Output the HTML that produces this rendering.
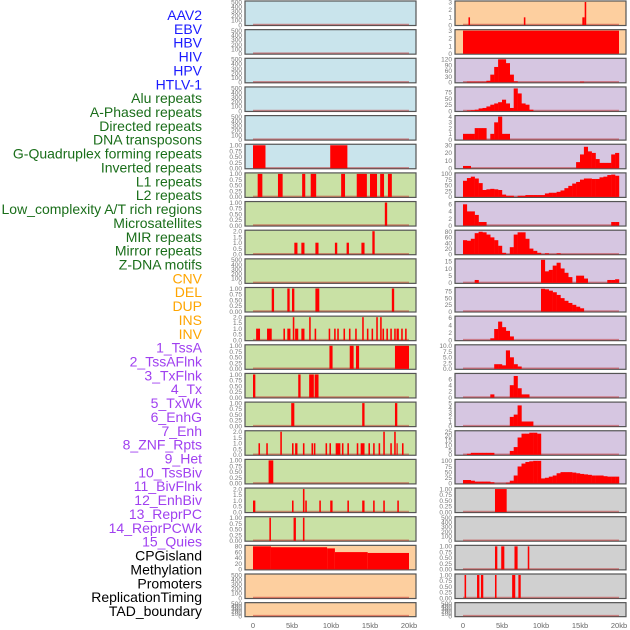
<!DOCTYPE html>
<html><head><meta charset="utf-8"><style>
html,body{margin:0;padding:0;background:#fff;width:630px;height:630px;overflow:hidden}
svg{display:block}
</style></head><body>
<svg id="chart" width="630" height="630" xmlns="http://www.w3.org/2000/svg"></svg>
<script>
// ---- labels ----
const trackLabels = ["AAV2","EBV","HBV","HIV","HPV","HTLV-1","Alu repeats","A-Phased repeats","Directed repeats","DNA transposons","G-Quadruplex forming repeats","Inverted repeats","L1 repeats","L2 repeats","Low_complexity A/T rich regions","Microsatellites","MIR repeats","Mirror repeats","Z-DNA motifs","CNV","DEL","DUP","INS","INV","1_TssA","2_TssAFlnk","3_TxFlnk","4_Tx","5_TxWk","6_EnhG","7_Enh","8_ZNF_Rpts","9_Het","10_TssBiv","11_BivFlnk","12_EnhBiv","13_ReprPC","14_ReprPCWk","15_Quies","CPGisland","Methylation","Promoters","ReplicationTiming","TAD_boundary"];
const labelColors = ["#1a1aff","#1a1aff","#1a1aff","#1a1aff","#1a1aff","#1a1aff","#1a6e1a","#1a6e1a","#1a6e1a","#1a6e1a","#1a6e1a","#1a6e1a","#1a6e1a","#1a6e1a","#1a6e1a","#1a6e1a","#1a6e1a","#1a6e1a","#1a6e1a","#ffa500","#ffa500","#ffa500","#ffa500","#ffa500","#a040f0","#a040f0","#a040f0","#a040f0","#a040f0","#a040f0","#a040f0","#a040f0","#a040f0","#a040f0","#a040f0","#a040f0","#a040f0","#a040f0","#a040f0","#000","#000","#000","#000","#000"];
const xTicks = [0,5,10,15,20];
const xTickLabels = ["0","5kb","10kb","15kb","20kb"];

// ---- tick sets ----
const ticksEmpty = [0,100,200,300,400,500];
const ticksBin = [0,0.25,0.5,0.75,1];
const ticksTwo = [0,0.5,1,1.5,2];

// ---- left column segment data [startKb, endKb, value] ----
const segHTLV = [[0,1.6,1],[9.9,12.1,1]];
const segAlu = [[0.6,1.2,1],[3.2,3.8,1],[6.3,6.7,1],[7.4,8.1,1],[11.3,11.8,1],[13.3,14.6,1],[15,15.9,1],[16.3,16.8,1],[17.3,17.8,1]];
const segAPhased = [[16.9,17.2,1]];
const segDirected = [[5.3,5.7,1],[6.2,6.6,1],[8.0,8.4,1],[10.5,10.8,1],[12.0,12.3,1],[13.9,14.3,1],[15.3,15.6,2]];
const segGQuad = [[2.4,2.7,1],[4.4,4.7,1],[5.0,5.3,1],[8.0,8.5,1],[17.8,18.1,1]];
const segInverted = [[0.4,0.9,1],[1.8,2.4,1],[3.9,4.1,1],[4.4,4.8,1],[5.1,5.3,2],[5.4,5.8,1],[6.2,6.6,1],[7.2,7.4,2],[7.9,8.1,1],[9.7,9.9,1],[10.4,10.6,1],[10.8,11.0,1],[11.6,11.8,1],[12.3,12.5,1],[13.1,13.3,1],[14.0,14.2,2],[14.6,14.8,1],[15.2,15.4,1],[15.8,16.0,2],[16.3,16.5,2],[16.6,16.8,1],[17.1,17.3,1],[17.6,17.8,1],[18.1,18.3,1],[18.4,18.7,1],[19.0,19.2,1],[19.5,19.7,1]];
const segL1 = [[9.8,10.2,1],[12.4,12.9,1],[13.2,13.6,1],[18.2,20,1]];
const segL2 = [[0,0.3,1],[5.8,6.1,1],[7.2,7.8,1],[7.9,8.4,1]];
const segLowComplex = [[4.9,5.3,1],[14.0,14.3,1],[18.2,18.5,1]];
const segMicrosat = [[0.7,0.9,1],[1.7,1.9,1],[3.5,3.7,2],[5.0,5.2,1],[5.4,5.7,1],[6.4,6.6,1],[7.5,7.7,1],[7.8,8.0,1],[9.3,9.5,1],[9.8,10.0,1],[10.6,11.2,1],[11.4,11.6,1],[12.1,12.3,1],[13.3,13.5,1],[13.8,14.3,1],[14.8,15.0,1],[15.4,15.6,1],[16.1,16.3,1],[16.7,16.9,2],[17.6,17.8,1],[18.1,18.3,2],[18.4,18.5,1],[19.1,19.3,1]];
const segMIR = [[2.0,2.6,1]];
const segMirror = [[0,0.3,1],[5.0,5.2,1],[6.4,6.6,2],[6.7,6.9,1],[8.5,8.7,1],[9.9,10.2,1],[12.1,12.3,1],[14.0,14.3,1],[15.4,15.6,1],[16.7,16.9,1],[18.5,18.7,1]];
const segZDNA = [[2.1,2.3,1],[5.2,5.5,1],[6.4,6.6,1]];
const segCNV = [[0,2.3,80],[2.3,9.5,77],[9.5,10.5,73],[10.5,14.7,60],[14.7,20,57]];

// ---- right column: segments ----
const segINS = [[0.7,0.9,1],[7.8,8.0,1],[15.3,15.6,1],[15.6,15.8,3]];
const segINV = [[0,20,3]];
const segCPG = [[4.1,5.6,1]];
const segPromoters = [[4.1,4.4,1],[4.9,5.3,1],[6.6,7.0,1],[8.3,8.5,1]];
const segReplication = [[0.2,0.4,1],[1.8,2.1,1],[2.3,2.6,1],[4.1,4.3,1],[6.3,6.7,1],[7.1,7.4,1]];

// ---- right column: 0.5kb bins (40 values, 0-20kb) ----
const binTssA = [0,3,3,3,3,3,8,40,80,120,120,100,40,5,0,0,0,0,0,0,0,0,0,0,0,0,0,0,0,0,3,0,0,0,0,0,0,0,0,0];
const binTssAFlnk = [0,2,3,5,10,12,18,25,30,35,45,30,12,90,70,30,25,5,0,0,0,0,0,0,0,0,0,0,0,0,0,0,0,0,0,0,0,0,0,0];
const binTxFlnk = [1,1,1,2,2,2,0,1,3,4,1,1,0,0,0,0,0,0,0,0,0,0,0,0,0,0,0,0,0,0,0,0,0,0,0,0,0,0,0,0];
const binTx = [3,3,0,0,0,0,0,0,0,0,0,0,0,0,0,0,0,0,0,0,0,0,0,0,0,0,0,0,0,8,18,28,22,20,12,7,7,7,18,20];
const binTxWk = [70,82,88,80,60,30,33,35,33,30,10,5,5,0,5,5,8,8,8,8,8,15,18,18,22,28,38,48,58,65,75,80,80,78,78,85,88,95,97,92];
const binEnhG = [6,4,4,3,1,1,0,0,0,0,0,0,0,0,0,0,0,0,0,0,0,0,0,0,0,0,0,0,0,0,0,0,0,0,0,0,0,0,1,1];
const binEnh = [50,48,55,75,80,78,70,60,50,30,5,0,25,70,78,78,55,20,12,5,0,3,0,0,3,0,0,0,0,0,0,0,0,0,0,0,0,0,0,0];
const binZNF = [0,0,0,2,0,0,0,0,0,0,0,0,0,0,0,0,0,0,0,0,16,8,9,12,14,10,7,4,0,5,5,3,0,0,0,0,0,2,2,2.5];
const binHet = [0,0,0,0,0,0,0,0,0,0,0,0,0,0,0,0,0,0,0,0,85,83,78,72,62,50,40,32,25,18,12,0,0,0,0,0,0,0,0,0];
const binTssBiv = [0,0,0,0,0,0,0,0.5,3,5,3.5,2.5,1,0,0,0,0,0,0,0,0,0,0,0,0,0,0,0,0,0,0,0,0,0,0,0,0,0,0,0];
const binBivFlnk = [0,0,0,0,0,0,0,0,2,2,1.5,8,5,2,1,0,0,0,0,0,0,0,0,0,0,0,0,0,0,0,0,0,0,0,0,0,0,0,0,0];
const binEnhBiv = [0,0,0,0,0,0,0,1,0,0,0,0,4,7,3,1,1,0,0,0,0,0,0,0,0,0,0,0,0,0,0,0,0,0,0,0,0,0,0,0];
const binReprPC = [0,0,0,0,0,0,0,0,0,0,0,0,2,2.5,4.5,1,1,1,0,0,0,0,0,0,0,0,0,0,0,0,0,0,0,0,0,0,0,0,0,0];
const binReprPCWk = [0,1,2,2,2,2,2,2,0,0,0,0,4,8,18,22,22,23,23,22,0,0,0,0,0,0,0,0,0,0,0,0,0,0,0,0,0,0,0,0];
const binQuies = [15,15,12,8,8,8,8,5,0,0,0,3,12,35,75,88,95,98,100,100,22,25,30,35,45,50,50,50,48,45,42,40,38,35,35,35,32,30,30,30];

// ---- panel configuration ----
const C_BLUE="#c9e4ec", C_GREEN="#c9e1a5", C_PEACH="#fdcf9f", C_LAV="#d6c6e1", C_GRAY="#d0d0d0";
const leftPanels = [
 {bg:C_BLUE,max:500,ticks:ticksEmpty,seg:[]},
 {bg:C_BLUE,max:500,ticks:ticksEmpty,seg:[]},
 {bg:C_BLUE,max:500,ticks:ticksEmpty,seg:[]},
 {bg:C_BLUE,max:500,ticks:ticksEmpty,seg:[]},
 {bg:C_BLUE,max:500,ticks:ticksEmpty,seg:[]},
 {bg:C_BLUE,max:1,ticks:ticksBin,seg:segHTLV},
 {bg:C_GREEN,max:1,ticks:ticksBin,seg:segAlu},
 {bg:C_GREEN,max:1,ticks:ticksBin,seg:segAPhased},
 {bg:C_GREEN,max:2,ticks:ticksTwo,seg:segDirected},
 {bg:C_GREEN,max:500,ticks:ticksEmpty,seg:[]},
 {bg:C_GREEN,max:1,ticks:ticksBin,seg:segGQuad},
 {bg:C_GREEN,max:2,ticks:ticksTwo,seg:segInverted},
 {bg:C_GREEN,max:1,ticks:ticksBin,seg:segL1},
 {bg:C_GREEN,max:1,ticks:ticksBin,seg:segL2},
 {bg:C_GREEN,max:1,ticks:ticksBin,seg:segLowComplex},
 {bg:C_GREEN,max:2,ticks:ticksTwo,seg:segMicrosat},
 {bg:C_GREEN,max:1,ticks:ticksBin,seg:segMIR},
 {bg:C_GREEN,max:2,ticks:ticksTwo,seg:segMirror},
 {bg:C_GREEN,max:1,ticks:ticksBin,seg:segZDNA},
 {bg:C_PEACH,max:80,ticks:[0,20,40,60,80],seg:segCNV},
 {bg:C_PEACH,max:500,ticks:ticksEmpty,seg:[]},
 {bg:C_PEACH,max:500,ticks:ticksEmpty,seg:[]}
];
const rightPanels = [
 {bg:C_PEACH,max:3,ticks:[0,1,2,3],seg:segINS},
 {bg:C_PEACH,max:3,ticks:[0,1,2,3],seg:segINV},
 {bg:C_LAV,max:120,ticks:[0,30,60,90,120],bins:binTssA},
 {bg:C_LAV,max:92,ticks:[0,25,50,75],bins:binTssAFlnk},
 {bg:C_LAV,max:4,ticks:[0,1,2,3,4],bins:binTxFlnk},
 {bg:C_LAV,max:30,ticks:[0,10,20,30],bins:binTx},
 {bg:C_LAV,max:100,ticks:[0,25,50,75,100],bins:binTxWk},
 {bg:C_LAV,max:6.5,ticks:[0,2,4,6],bins:binEnhG},
 {bg:C_LAV,max:82,ticks:[0,20,40,60,80],bins:binEnh},
 {bg:C_LAV,max:16,ticks:[0,5,10,15],bins:binZNF},
 {bg:C_LAV,max:86,ticks:[0,25,50,75],bins:binHet},
 {bg:C_LAV,max:6.2,ticks:[0,2,4,6],bins:binTssBiv},
 {bg:C_LAV,max:10,ticks:[0,2.5,5,7.5,10],bins:binBivFlnk,dec:1},
 {bg:C_LAV,max:7.5,ticks:[0,2,4,6],bins:binEnhBiv},
 {bg:C_LAV,max:5,ticks:[0,1,2,3,4,5],bins:binReprPC},
 {bg:C_LAV,max:24,ticks:[0,5,10,15,20,25],bins:binReprPCWk},
 {bg:C_LAV,max:102,ticks:[0,25,50,75,100],bins:binQuies},
 {bg:C_GRAY,max:1,ticks:ticksBin,seg:segCPG},
 {bg:C_GRAY,max:500,ticks:ticksEmpty,seg:[]},
 {bg:C_GRAY,max:1,ticks:ticksBin,seg:segPromoters},
 {bg:C_GRAY,max:1,ticks:ticksBin,seg:segReplication},
 {bg:C_GRAY,max:500,ticks:ticksEmpty,seg:[]}
];

const NS="http://www.w3.org/2000/svg";
const svg=document.getElementById('chart');
function mk(tag,attrs,parent){const e=document.createElementNS(NS,tag);for(const k in attrs)e.setAttribute(k,attrs[k]);(parent||svg).appendChild(e);return e;}

// labels
trackLabels.forEach((t,i)=>{
  const e=mk('text',{x:202,y:15+i*13.86+5,'text-anchor':'end','font-family':'Liberation Sans, sans-serif','font-size':'14',fill:labelColors[i]});
  e.textContent=t;
  
  
});

function fmtTick(v,ticks){
  const step=ticks[1]-ticks[0];
  if(step<0.5||ticks===ticksBin) return v.toFixed(2);
  if(step%1!==0) return v.toFixed(1);
  if(ticks===ticksTwo) return v.toFixed(1);
  return String(v);
}

function drawPanel(p,col,row,name){
  const px0 = col===0?245:455, pw=171;
  const top = 1+row*28.65, h = row===21?14:24.5;
  const xS = kb => (col===0?253:463) + kb*7.8;
  const bottom = top+h-0.5, inner=h-1.5;
  const yS = v => bottom - v/p.max*inner;
  const g=mk('g',{});
  
  
  const bg=mk('rect',{x:px0,y:top,width:pw,height:h,fill:p.bg,stroke:'#555','stroke-width':1.2},g);
  
  
  // y ticks
  p.ticks.forEach(v=>{
    const tt=mk('text',{x:px0-3,y:yS(Math.min(v,p.max))+2.3,'text-anchor':'end','font-family':'Liberation Sans, sans-serif','font-size':'6.5',fill:'#777'},g);
    tt.textContent = p.dec? v.toFixed(1) : fmtTick(v,p.ticks);
    
    
  });
  // baseline
  const bl=mk('line',{x1:xS(0),x2:xS(20),y1:bottom-0.5,y2:bottom-0.5,stroke:'rgba(190,30,30,0.45)','stroke-width':1.5},g);
  
  
  if(p.seg){
    p.seg.forEach(s=>{
      const r=mk('rect',{x:xS(s[0]),y:yS(s[2]),width:Math.max(1.2,xS(s[1])-xS(s[0])),height:bottom-yS(s[2]),fill:'#ff0000'},g);
      
      
    });
  }
  if(p.bins){
    p.bins.forEach((v,i)=>{
      if(v<=0) return;
      const r=mk('rect',{x:xS(i*0.5),y:yS(v),width:xS(i*0.5+0.5)-xS(i*0.5)+0.2,height:bottom-yS(v),fill:'#ff0000'},g);
      
      
    });
  }
}
leftPanels.forEach((p,i)=>drawPanel(p,0,i,trackLabels[i].toLowerCase().replace(/[^a-z0-9]+/g,'-')));
rightPanels.forEach((p,i)=>drawPanel(p,1,i,trackLabels[22+i].toLowerCase().replace(/[^a-z0-9]+/g,'-')));

// x axes
[253,463].forEach((x0,c)=>{
  xTicks.forEach((k,i)=>{
    const t=mk('text',{x:x0+k*7.8,y:628,'text-anchor':'middle','font-family':'Liberation Sans, sans-serif','font-size':'7.5',fill:'#666'});
    t.textContent=xTickLabels[i];
    
    
  });
});
</script>
</body></html>
